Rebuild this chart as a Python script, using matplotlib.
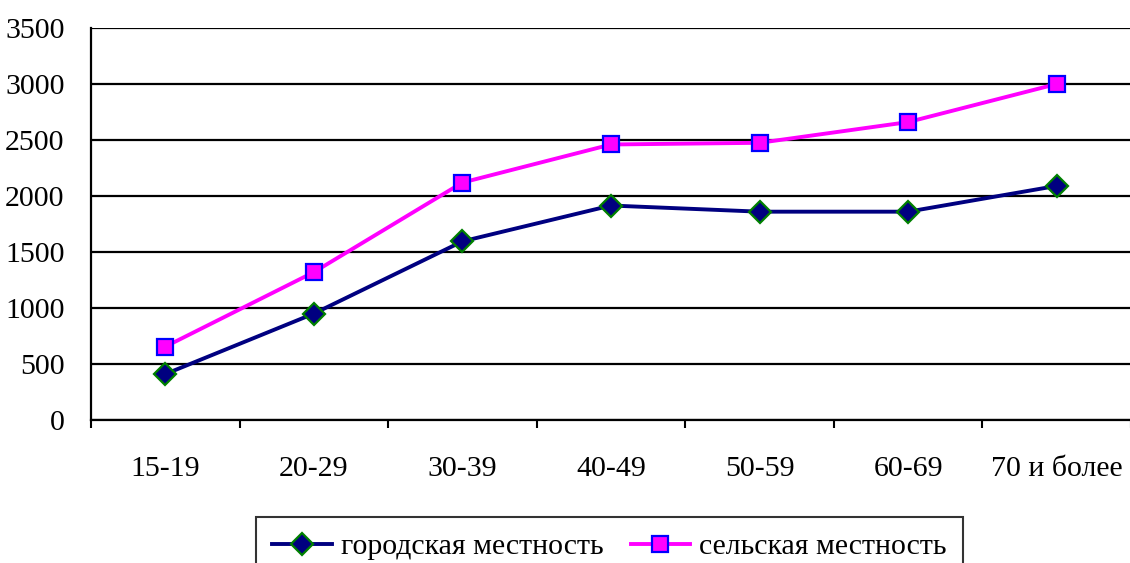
import matplotlib.pyplot as plt
import numpy as np

plt.rcParams['font.family'] = ['Liberation Serif', 'DejaVu Serif']

groups = ['15-19', '20-29', '30-39', '40-49', '50-59', '60-69', '70 и более']
urban = [410, 950, 1595, 1915, 1860, 1860, 2090]
rural = [655, 1320, 2120, 2460, 2475, 2660, 3000]
urban_label = 'городская местность'
rural_label = 'сельская местность'

fig = plt.figure(figsize=(11.3, 5.63), dpi=100)
ax = fig.add_axes([91 / 1130, (563 - 420) / 563, 1040 / 1130, 392 / 563])

x = np.arange(len(groups))
ax.plot(x, urban, color='#000080', lw=2.8, marker='D', ms=11,
        mfc='#000080', mec='#008000', mew=1.6, label=urban_label, zorder=3)
ax.plot(x, rural, color='#FF00FF', lw=2.8, marker='s', ms=11,
        mfc='#FF00FF', mec='#0000FF', mew=1.6, label=rural_label, zorder=3)

ax.set_xlim(-0.5, len(groups) - 0.5)
ax.set_ylim(0, 3500)
ax.set_yticks(np.arange(0, 3501, 500))
ax.yaxis.grid(True, color='black', lw=1.6)
ax.set_axisbelow(True)

ax.set_xticks(x)
ax.set_xticklabels(groups)
ax.set_xticks(np.arange(len(groups) + 1) - 0.5, minor=True)
ax.tick_params(axis='x', which='major', length=0, pad=26, labelsize=21.5)
ax.tick_params(axis='x', which='minor', length=6, width=1.5, direction='out')
ax.tick_params(axis='y', length=0, pad=19, labelsize=21.5)

for s in ['top', 'right']:
    ax.spines[s].set_visible(False)
for s in ['left', 'bottom']:
    ax.spines[s].set_linewidth(1.6)

leg = fig.legend(loc='upper left', bbox_to_anchor=(256 / 1130, (563 - 517) / 563),
                 ncol=2, fontsize=21.5, frameon=True, fancybox=False,
                 edgecolor='black', borderaxespad=0, handlelength=2.0,
                 handletextpad=0.3, columnspacing=0.9, borderpad=0.55)
leg.get_frame().set_linewidth(1.5)

fig.savefig('out.png', dpi=100)
